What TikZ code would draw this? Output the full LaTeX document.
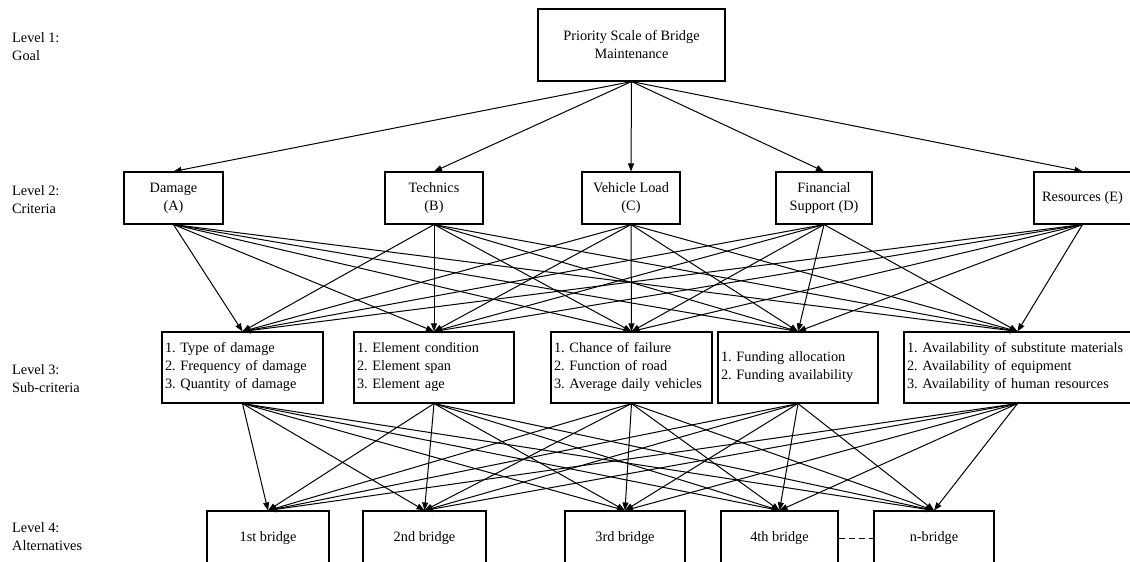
\documentclass[tikz,border=0pt]{standalone}
\usepackage{fontspec}
\setmainfont{Liberation Serif}
\usetikzlibrary{arrows.meta}
\frenchspacing
\begin{document}
\begin{tikzpicture}[x=1pt,y=-1pt,
  txt/.style={font=\fontsize{14.3}{18}\selectfont},
  box/.style={txt, draw, line width=1.1pt, inner sep=0pt, align=center},
  lbox/.style={txt, draw, line width=1.1pt, inner xsep=3pt, inner ysep=0pt, align=left},
  lab/.style={txt, anchor=west, align=left, inner sep=0pt},
  arr/.style={-{Triangle[length=8pt,width=6pt]}, line width=1pt}]
\useasboundingbox (0,0) rectangle (1130,562);
% level labels
\node[lab] (l1) at (12,47) {Level 1:\\Goal};
\node[lab] (l2) at (12,199.5) {Level 2:\\Criteria};
\node[lab] (l3) at (12,378.5) {Level 3:\\Sub-criteria};
\node[lab] (l4) at (12,537) {Level 4:\\Alternatives};
% level 1
\node[box, minimum width=187pt, minimum height=72pt] (goal) at (631.5,45) {Priority Scale of Bridge\\Maintenance};
% level 2
\node[box, minimum width=99pt, minimum height=52pt] (c1) at (173.5,198) {Damage\\(A)};
\node[box, minimum width=98pt, minimum height=52pt] (c2) at (434,198) {Technics\\(B)};
\node[box, minimum width=98pt, minimum height=52pt] (c3) at (631,198) {Vehicle Load\\(C)};
\node[box, minimum width=96pt, minimum height=52pt] (c4) at (824,198) {Financial\\Support (D)};
\node[box, minimum width=97pt, minimum height=52pt] (c5) at (1082.5,198) {Resources (E)};
% level 3
\node[lbox, text width=155pt, minimum height=71pt] (s1) at (242.5,367.5) {1. Type of damage\\2. Frequency of damage\\3. Quantity of damage};
\node[lbox, text width=154pt, minimum height=71pt] (s2) at (434,367.5) {1. Element condition\\2. Element span\\3. Element age};
\node[lbox, text width=155pt, minimum height=71pt] (s3) at (631.5,367.5) {1. Chance of failure\\2. Function of road\\3. Average daily vehicles};
\node[lbox, text width=154pt, minimum height=71pt] (s4) at (798,367.5) {1. Funding allocation\\2. Funding availability};
\node[lbox, text width=221pt, minimum height=71pt] (s5) at (1017.5,367.5) {1. Availability of substitute materials\\2. Availability of equipment\\3. Availability of human resources};
% level 4
\node[box, minimum width=122pt, minimum height=54pt] (b1) at (268,538) {1st bridge};
\node[box, minimum width=123pt, minimum height=54pt] (b2) at (424.5,538) {2nd bridge};
\node[box, minimum width=120pt, minimum height=54pt] (b3) at (625,538) {3rd bridge};
\node[box, minimum width=117pt, minimum height=54pt] (b4) at (779.5,538) {4th bridge};
\node[box, minimum width=120pt, minimum height=54pt] (b5) at (934,538) {n-bridge};
% connectors
\foreach \c in {c1,c2,c3,c4,c5} \draw[arr] (goal.south) -- (\c.north);
\foreach \c in {c1,c2,c3,c4,c5} \foreach \s in {s1,s2,s3,s4,s5} \draw[arr] (\c.south) -- (\s.north);
\foreach \s in {s1,s2,s3,s4,s5} \foreach \b in {b1,b2,b3,b4,b5} \draw[arr] (\s.south) -- (\b.north);
\draw[line width=1pt, dash pattern=on 6pt off 4pt] (b4.east) -- (b5.west);
\end{tikzpicture}
\end{document}
